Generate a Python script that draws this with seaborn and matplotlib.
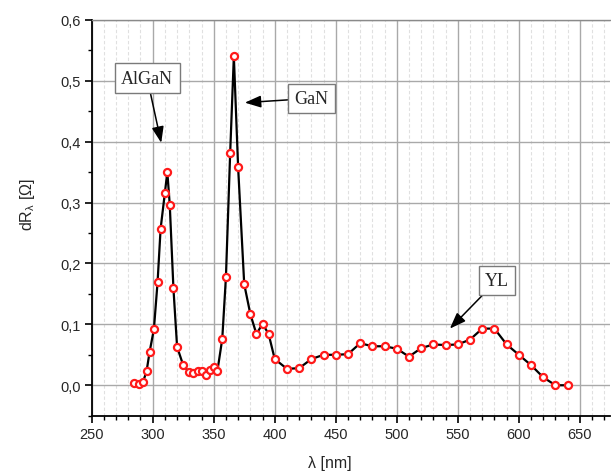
import matplotlib
matplotlib.use("Agg")
import matplotlib.pyplot as plt
from matplotlib.ticker import MultipleLocator, FuncFormatter
import seaborn as sns
import pandas as pd

# Wavelength scan (nm) and differential resistance dR_lambda (Ohm)
wavelength = [285, 289, 292, 295, 297.5, 301, 304, 306.5, 310, 312,
              314, 317, 320, 325, 330, 333, 337, 340, 344, 347,
              350, 353, 357, 360, 363.5, 366.5, 370, 375, 380, 385,
              390, 395, 400, 410, 420, 430, 440, 450, 460, 470,
              480, 490, 500, 510, 520, 530, 540, 550, 560, 570,
              580, 590, 600, 610, 620, 630, 640]
dR = [0.004, 0.002, 0.005, 0.023, 0.055, 0.092, 0.169, 0.257, 0.316, 0.350,
      0.296, 0.159, 0.063, 0.033, 0.021, 0.020, 0.023, 0.023, 0.017, 0.025,
      0.030, 0.023, 0.076, 0.177, 0.382, 0.540, 0.358, 0.166, 0.117, 0.084,
      0.101, 0.084, 0.043, 0.027, 0.028, 0.043, 0.050, 0.050, 0.051, 0.069,
      0.064, 0.064, 0.060, 0.047, 0.061, 0.067, 0.066, 0.067, 0.075, 0.093,
      0.093, 0.067, 0.050, 0.033, 0.013, 0.000, 0.000]

# Labelled features: text, box centre, arrow tip
labels = ["AlGaN", "GaN", "YL"]
label_pos = [(295.5, 0.504), (430.0, 0.471), (582.0, 0.172)]
arrow_tip = [(307.0, 0.398), (375.5, 0.464), (543.5, 0.093)]

df = pd.DataFrame({"wavelength": wavelength, "dR": dR})

sns.set_theme(style="white")
plt.rcParams["font.family"] = ["Liberation Sans", "DejaVu Sans"]
plt.rcParams["mathtext.fontset"] = "custom"
plt.rcParams["mathtext.rm"] = "Liberation Sans"
plt.rcParams["mathtext.it"] = "Liberation Sans"

fig = plt.figure(figsize=(6.11, 4.77), dpi=100)
ax = fig.add_axes([0.150, 0.1264, 0.849, 0.830])

sns.lineplot(data=df, x="wavelength", y="dR", color="black", lw=1.6,
             ax=ax, zorder=3, sort=False)
sns.scatterplot(data=df, x="wavelength", y="dR", marker="o", s=26,
                facecolor="white", edgecolor="#ff1a1a", linewidth=1.6,
                ax=ax, zorder=4)

ax.set_xlim(250, 675)
ax.set_ylim(-0.05, 0.6)
ax.xaxis.set_major_locator(MultipleLocator(50))
ax.xaxis.set_minor_locator(MultipleLocator(10))
ax.yaxis.set_major_locator(MultipleLocator(0.1))
ax.yaxis.set_minor_locator(MultipleLocator(0.05))
ax.yaxis.set_major_formatter(FuncFormatter(lambda v, p: f"{v:.1f}".replace(".", ",")))

ax.grid(which="major", color="#a9a9a9", lw=1.0, zorder=0)
ax.grid(which="minor", axis="x", color="#e0e0e0", lw=0.8, ls=(0, (3, 2)), zorder=0)
ax.set_axisbelow(True)

for side in ["left", "bottom"]:
    ax.spines[side].set_color("black")
    ax.spines[side].set_linewidth(1.3)
ax.spines["top"].set_color("#8a8a8a")
ax.spines["top"].set_linewidth(1.0)
ax.spines["right"].set_visible(False)

ax.tick_params(which="major", direction="out", length=5, width=1.2,
               color="black", labelsize=10.5, pad=3, left=True, bottom=True)
ax.tick_params(which="minor", direction="out", length=3, width=1.0,
               color="black", left=True, bottom=True)

ax.set_xlabel("λ [nm]", fontsize=11.5)
ax.xaxis.set_label_coords(0.459, -0.10)
ax.set_ylabel(r"dR$_{\lambda}$ [Ω]", fontsize=11.5)
ax.yaxis.set_label_coords(-0.105, 0.537)

for text, pos, tip in zip(labels, label_pos, arrow_tip):
    ax.annotate(text, xy=tip, xytext=pos, ha="center", va="center",
                fontsize=13, family="Liberation Serif", zorder=5,
                bbox=dict(boxstyle="square,pad=0.35", fc="white",
                          ec="#7a7a7a", lw=1.0),
                arrowprops=dict(arrowstyle="-|>,head_length=0.75,head_width=0.28",
                                color="black", lw=1.1, shrinkA=0, shrinkB=0))

fig.savefig("out.png", dpi=100)
